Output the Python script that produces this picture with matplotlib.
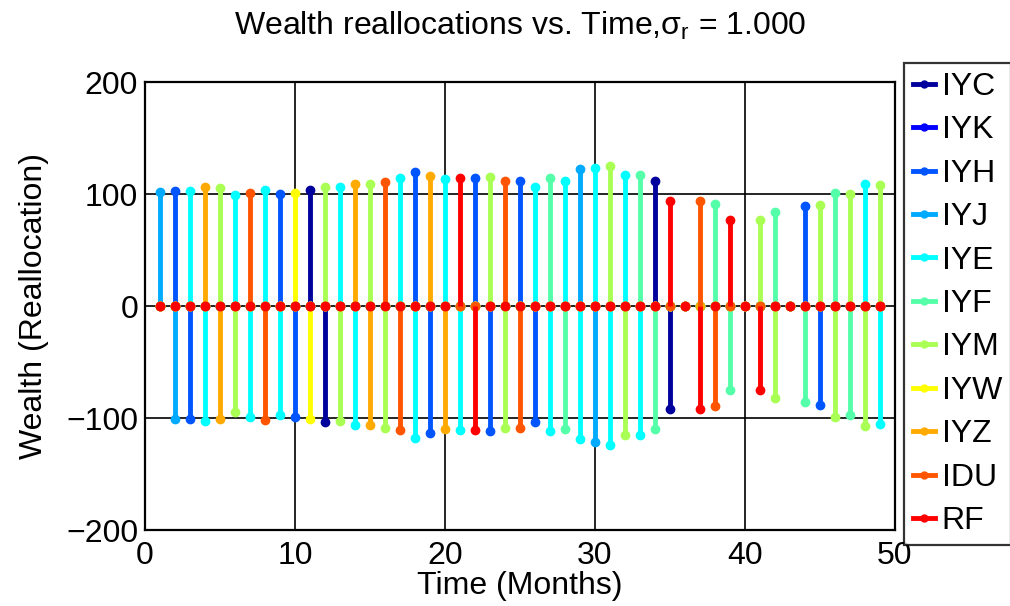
import matplotlib
matplotlib.use("Agg")
import matplotlib.pyplot as plt
from matplotlib.lines import Line2D
import numpy as np

plt.rcParams["font.family"] = ["Liberation Sans", "DejaVu Sans"]
plt.rcParams["mathtext.fontset"] = "custom"
plt.rcParams["mathtext.rm"] = "Liberation Sans"
plt.rcParams["mathtext.it"] = "Liberation Sans:italic"

# assets, in legend order (MATLAB jet-like colours)
assets = ["IYC", "IYK", "IYH", "IYJ", "IYE", "IYF", "IYM", "IYW", "IYZ", "IDU", "RF"]
colors = ["#00009C", "#0000FF", "#0055FF", "#00AAFF", "#00FFFF", "#55FFAA",
          "#AAFF55", "#FFFF00", "#FFAA00", "#FF5500", "#FF0000"]

months = list(range(1, 50))
# asset bought (positive) and sold (negative) each month, "" = none
pos_asset = ["IYJ", "IYH", "IYE", "IYZ", "IYM", "IYE", "IDU", "IYE", "IYH", "IYW",
             "IYC", "IYM", "IYE", "IYZ", "IYM", "IDU", "IYE", "IYH", "IYZ", "IYE",
             "RF", "IYH", "IYM", "IDU", "IYH", "IYE", "IYF", "IYE", "IYJ", "IYE",
             "IYM", "IYE", "IYF", "IYC", "RF", "", "IDU", "IYF", "RF", "",
             "IYM", "IYF", "", "IYH", "IYM", "IYF", "IYM", "IYE", "IYM"]
pos_val = [102, 103, 103, 106, 105, 99, 101, 104, 100, 101,
           104, 106, 106, 109, 109, 111, 114, 120, 116, 113,
           114, 114, 115, 112, 112, 106, 114, 112, 122, 123,
           125, 117, 117, 112, 94, 0, 94, 91, 77, 0,
           77, 84, 0, 89, 90, 101, 100, 109, 108]
neg_asset = ["", "IYJ", "IYH", "IYE", "IYZ", "IYM", "IYE", "IDU", "IYE", "IYH",
             "IYW", "IYC", "IYM", "IYE", "IYZ", "IYM", "IDU", "IYE", "IYH", "IYZ",
             "IYE", "RF", "IYH", "IYM", "IDU", "IYH", "IYE", "IYF", "IYE", "IYJ",
             "IYE", "IYM", "IYE", "IYF", "IYC", "", "RF", "IDU", "IYF", "",
             "RF", "IYM", "", "IYF", "IYH", "IYM", "IYF", "IYM", "IYE"]
neg_val = [0, -101, -101, -103, -101, -95, -99, -102, -97, -99,
           -101, -104, -103, -106, -106, -109, -111, -118, -113, -110,
           -111, -111, -112, -109, -109, -104, -112, -110, -119, -121,
           -124, -115, -115, -110, -92, 0, -92, -89, -75, 0,
           -75, -82, 0, -86, -88, -99, -97, -107, -105]

# one row per asset, one column per month
alloc = np.zeros((len(assets), len(months)))
for j in range(len(months)):
    if pos_asset[j]:
        alloc[assets.index(pos_asset[j]), j] += pos_val[j]
    if neg_asset[j]:
        alloc[assets.index(neg_asset[j]), j] += neg_val[j]

fig = plt.figure(figsize=(10.10, 6.06), dpi=100)
ax = fig.add_axes([145 / 1010, 1 - 530 / 606, 750 / 1010, 448 / 606])

for i, name in enumerate(assets):
    ml, sl, bl = ax.stem(months, alloc[i], basefmt=" ")
    plt.setp(sl, color=colors[i], linewidth=3.5, zorder=2 + i)
    plt.setp(ml, color=colors[i], markersize=6, zorder=2 + i)
    bl.set_visible(False)

ax.set_xlim(0, 50)
ax.set_ylim(-200, 200)
ax.set_xticks([0, 10, 20, 30, 40, 50])
ax.set_yticks([-200, -100, 0, 100, 200])
ax.grid(True, color="black", linewidth=1.2)
ax.set_axisbelow(True)
for s in ax.spines.values():
    s.set_linewidth(1.6)
ax.tick_params(labelsize=23, length=0, pad=5)
ax.tick_params(axis="x", pad=8)

ax.set_xlabel("Time (Months)", fontsize=23, labelpad=0)
ax.set_ylabel("Wealth (Reallocation)", fontsize=23, labelpad=12)
ax.set_title(r"Wealth reallocations vs. Time,σ$_\mathrm{r}$ = 1.000", fontsize=23, pad=34)

handles = [Line2D([0], [0], color=c, lw=3.5, marker="o", markersize=5) for c in colors]
leg = fig.legend(handles, assets, loc="upper left", bbox_to_anchor=(904 / 1010, 1 - 63 / 606),
                 fontsize=23, frameon=True, fancybox=False, edgecolor="black",
                 handlelength=0.7, handletextpad=0.2, labelspacing=0.42, borderpad=0.28,
                 borderaxespad=0, numpoints=1)
leg.get_frame().set_linewidth(1.6)

fig.savefig("out.png", dpi=100)
